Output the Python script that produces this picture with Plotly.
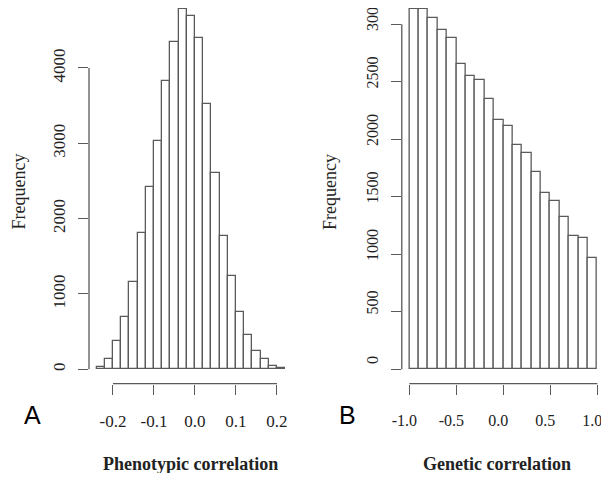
import plotly.graph_objects as go

# ---------------- data ----------------
# Panel A: phenotypic correlation histogram (bin width 0.02)
pheno_bin_left = [-0.24, -0.22, -0.20, -0.18, -0.16, -0.14, -0.12, -0.10, -0.08, -0.06,
                  -0.04, -0.02, 0.00, 0.02, 0.04, 0.06, 0.08, 0.10, 0.12, 0.14,
                  0.16, 0.18, 0.20]
pheno_bin_width = 0.02
pheno_counts = [30, 138, 373, 693, 1164, 1810, 2415, 3033, 3823, 4344,
                4780, 4693, 4397, 3523, 2605, 1770, 1244, 764, 458, 244,
                133, 49, 18]
pheno_xticks = [-0.2, -0.1, 0.0, 0.1, 0.2]
pheno_xtick_text = ["-0.2", "-0.1", "0.0", "0.1", "0.2"]
pheno_yticks = [0, 1000, 2000, 3000, 4000]
pheno_ytick_text = ["0", "1000", "2000", "3000", "4000"]

# Panel B: genetic correlation histogram (bin width 0.1)
gen_bin_left = [-1.0, -0.9, -0.8, -0.7, -0.6, -0.5, -0.4, -0.3, -0.2, -0.1,
                0.0, 0.1, 0.2, 0.3, 0.4, 0.5, 0.6, 0.7, 0.8, 0.9]
gen_bin_width = 0.1
gen_counts = [3133, 3133, 3052, 2950, 2878, 2652, 2548, 2516, 2354, 2168,
              2116, 1948, 1878, 1713, 1530, 1464, 1322, 1162, 1139, 965]
gen_xticks = [-1.0, -0.5, 0.0, 0.5, 1.0]
gen_xtick_text = ["-1.0", "-0.5", "0.0", "0.5", "1.0"]
gen_yticks = [0, 500, 1000, 1500, 2000, 2500, 3000]
gen_ytick_text = ["0", "500", "1000", "1500", "2000", "2500", "3000"]

x_titles = ["Phenotypic correlation", "Genetic correlation"]
y_title = "Frequency"
panel_labels = ["A", "B"]

# ---------------- style ----------------
LINE = "#5a5a5a"
TEXT = "#222222"
SERIF = "Liberation Serif, Times New Roman, serif"
SANS = "Liberation Sans, Arial, sans-serif"

# the page body has an 8px margin on every side; keep the page from overflowing
OFF = 8
W, H = 609 - OFF, 481 - 2 * OFF

def px(x):
    return (x - OFF) / W

def py(y):
    return 1 - (y - OFF) / H

fig = go.Figure()

fig.add_trace(go.Bar(
    x=[l + pheno_bin_width / 2 for l in pheno_bin_left], y=pheno_counts,
    width=pheno_bin_width, marker=dict(color="white", line=dict(color=LINE, width=1.3)),
    xaxis="x", yaxis="y", showlegend=False, hoverinfo="x+y", cliponaxis=False))

fig.add_trace(go.Bar(
    x=[l + gen_bin_width / 2 for l in gen_bin_left], y=gen_counts,
    width=gen_bin_width, marker=dict(color="white", line=dict(color=LINE, width=1.3)),
    xaxis="x2", yaxis="y2", showlegend=False, hoverinfo="x+y", cliponaxis=False))

BOTTOM = 383.7      # window pixel of plot-region bottom
TOP = OFF           # plot region top (clipped at window top in the reference)
ydom = [py(BOTTOM), 1.0]
span_px = BOTTOM - TOP

# left panel: 0 at 369.3px, 0.07533 px per count
ppu_a = 0.07533
ya0 = -(BOTTOM - 369.3) / ppu_a
ya1 = ya0 + span_px / ppu_a
# right panel: 0 at 369.3px, 0.115 px per count
ppu_b = 0.115
yb0 = -(BOTTOM - 369.3) / ppu_b
yb1 = yb0 + span_px / ppu_b

def xax(dom, rng, tv, tt, anchor, shift=0, size=17):
    return dict(domain=dom, range=rng, tickvals=tv, ticktext=tt, showline=False,
                showgrid=False, zeroline=False, ticks="outside", ticklen=10,
                tickwidth=1.3, tickcolor=LINE, ticklabelstandoff=12,
                ticklabelshift=shift, ticklabeloverflow="allow", automargin=False,
                tickfont=dict(family=SERIF, size=size, color=TEXT), anchor=anchor,
                fixedrange=True)

def yax(rng, tv, tt, anchor, shift=0, size=17):
    return dict(domain=ydom, range=rng, tickvals=tv, ticktext=tt, showline=False,
                showgrid=False, zeroline=False, ticks="outside", ticklen=10,
                tickwidth=1.3, tickcolor=LINE, tickangle=-90, ticklabelstandoff=6,
                ticklabelshift=shift, ticklabeloverflow="allow", automargin=False,
                tickfont=dict(family=SERIF, size=size, color=TEXT), anchor=anchor,
                fixedrange=True)

fig.update_layout(
    template="none",
    width=W, height=H,
    margin=dict(l=0, r=0, t=0, b=0, autoexpand=False),
    paper_bgcolor="white", plot_bgcolor="white",
    bargap=0,
    xaxis=xax([px(89), px(292.7)], [-0.2584, 0.2384], pheno_xticks, pheno_xtick_text, "y"),
    yaxis=yax([ya0, ya1], pheno_yticks, pheno_ytick_text, "x"),
    xaxis2=xax([px(401.8), px(604.8)], [-1.08, 1.08], gen_xticks, gen_xtick_text, "y2",
               shift=-5, size=16),
    yaxis2=yax([yb0, yb1], gen_yticks, gen_ytick_text, "x2", shift=-7, size=16),
)

# R-style axis lines spanning only the tick range
shapes = []
for xa, ya, xt, yt in [("x", "y", pheno_xticks, pheno_yticks), ("x2", "y2", gen_xticks, gen_yticks)]:
    shapes.append(dict(type="line", xref=xa, yref=ya + " domain", x0=xt[0], x1=xt[-1], y0=0, y1=0,
                       line=dict(color=LINE, width=1.3)))
    shapes.append(dict(type="line", xref=xa + " domain", yref=ya, x0=0, x1=0, y0=yt[0], y1=yt[-1],
                       line=dict(color=LINE, width=1.3)))
fig.update_layout(shapes=shapes)

ann = []
for title, xc in zip(x_titles, [190, 497]):
    ann.append(dict(text="<b>" + title + "</b>", x=px(xc), y=py(464), xref="paper", yref="paper",
                    showarrow=False, font=dict(family=SERIF, size=18, color=TEXT),
                    xanchor="center", yanchor="middle"))
for xc in [18.5, 330]:
    ann.append(dict(text=y_title, x=px(xc), y=py(192), xref="paper", yref="paper", textangle=-90,
                    showarrow=False, font=dict(family=SERIF, size=18, color=TEXT),
                    xanchor="center", yanchor="middle"))
for lbl, xc in zip(panel_labels, [32, 347]):
    ann.append(dict(text=lbl, x=px(xc), y=py(414.5), xref="paper", yref="paper",
                    showarrow=False, font=dict(family=SANS, size=25, color="black"),
                    xanchor="center", yanchor="middle"))
fig.update_layout(annotations=ann)

fig.write_html("out.html")
